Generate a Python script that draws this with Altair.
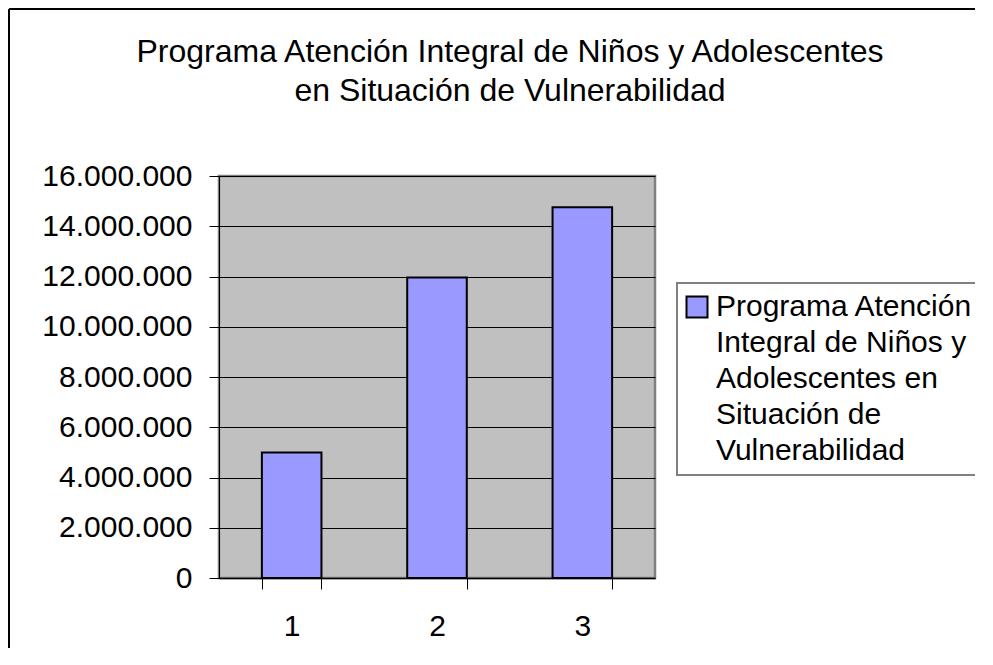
import altair as alt
import pandas as pd
import json

CATEGORIES = ["1", "2", "3"]
VALUES = [5000000, 11960000, 14760000]
SERIES = "Programa Atención Integral de Niños y Adolescentes en Situación de Vulnerabilidad"
LEGEND_LINES = ["Programa Atención", "Integral de Niños y", "Adolescentes en",
                "Situación de", "Vulnerabilidad"]
TITLE_LINES = ["Programa Atención Integral de Niños y Adolescentes",
               "en Situación de Vulnerabilidad"]
Y_TICKS = [0, 2000000, 4000000, 6000000, 8000000, 10000000, 12000000, 14000000, 16000000]

df = pd.DataFrame({"cat": CATEGORIES, "val": VALUES, "serie": [SERIES] * len(CATEGORIES)})

FONT = "Liberation Sans"
PLOT_W, PLOT_H = 436, 402
PAD_L, PAD_T, PAD_R, PAD_B = 211, 168, 320, 70

bars = alt.Chart(df).mark_bar(stroke="#000000", strokeWidth=2).encode(
    x=alt.X("cat:N", sort=CATEGORIES,
            scale=alt.Scale(paddingInner=0.59, paddingOuter=0.295),
            axis=alt.Axis(title=None, labelAngle=0, labelFontSize=30, labelFont=FONT,
                          labelColor="#000", labelPadding=22, tickSize=11,
                          tickColor="#000", tickBand="extent", domainColor="#000",
                          domainWidth=1.5, grid=False)),
    y=alt.Y("val:Q", scale=alt.Scale(domain=[0, 16000000], nice=False),
            axis=alt.Axis(title=None, values=Y_TICKS, labelFontSize=30, labelFont=FONT,
                          labelColor="#000", labelPadding=17, tickSize=10,
                          tickColor="#000", domainColor="#000", grid=True,
                          gridColor="#000", gridWidth=1,
                          labelExpr="replace(replace(format(datum.value, ','), ',', '.'), ',', '.')")),
    color=alt.Color("serie:N", scale=alt.Scale(range=["#9999FF"]),
                    legend=alt.Legend(title=None, orient="none", legendX=458, legendY=107,
                                      labelExpr=json.dumps(LEGEND_LINES, ensure_ascii=False),
                                      labelFontSize=30, labelFont=FONT, labelColor="#000",
                                      labelLimit=0, labelBaseline="middle",
                                      labelOffset=4, symbolOffset=-4,
                                      symbolType="square", symbolSize=441,
                                      symbolStrokeColor="#000", symbolStrokeWidth=2,
                                      symbolFillColor="#9999FF",
                                      strokeColor="#808080", fillColor="#FFFFFF")),
)

border_df = pd.DataFrame({"k": [0]})
top_border = alt.Chart(border_df).mark_rule(color="#000", strokeWidth=2).encode(
    x=alt.value(-210), x2=alt.value(PLOT_W + PAD_R), y=alt.value(-167))
left_border = alt.Chart(border_df).mark_rule(color="#000", strokeWidth=2).encode(
    x=alt.value(-210), y=alt.value(-167), y2=alt.value(PLOT_H + PAD_B))

chart = alt.layer(bars, top_border, left_border).properties(
    width=PLOT_W, height=PLOT_H,
    autosize=alt.AutoSizeParams(type="none"),
    padding={"left": PAD_L, "top": PAD_T, "right": PAD_R, "bottom": PAD_B},
    title=alt.Title(TITLE_LINES, fontSize=32, font=FONT, fontWeight="normal", color="#000",
                    anchor="middle", dx=73, offset=-132, baseline="bottom", lineHeight=39),
).configure(background="#FFFFFF", style={"guide-label": {"lineHeight": 36}}
).configure_view(fill="#C0C0C0", stroke="#808080", strokeWidth=2.5
).configure_legend(strokeColor="#808080", strokeWidth=2, fillColor="#FFFFFF", padding=9)

chart.save("out.html", embed_options={"renderer": "svg", "actions": False})
